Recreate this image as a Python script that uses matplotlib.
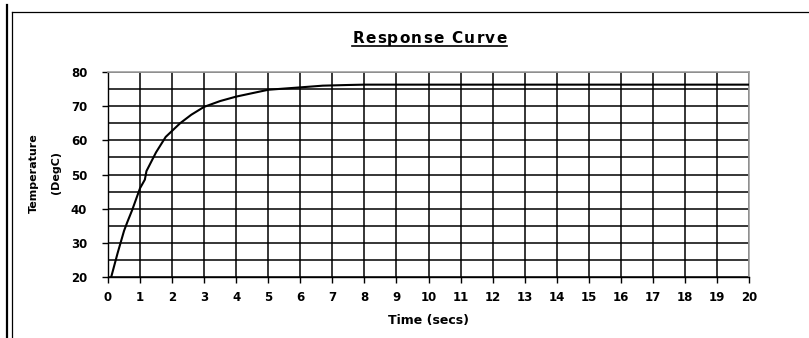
import matplotlib
matplotlib.use("Agg")
import matplotlib.pyplot as plt
from matplotlib.lines import Line2D
from matplotlib.ticker import MultipleLocator

plt.rcParams['font.family'] = ['DejaVu Sans']

# Measured temperature response over time
time_s = [0.1, 0.3, 0.5, 0.6, 0.75, 1.0, 1.15, 1.2, 1.5, 1.8, 2.25, 2.6,
          3.0, 3.5, 4.0, 5.0, 6.0, 6.7, 7.5, 8.0, 20.0]
temp_c = [20.0, 27.0, 33.5, 36.0, 39.5, 46.0, 48.5, 51.0, 56.5, 61.0, 65.0,
          67.5, 69.8, 71.5, 72.8, 74.8, 75.5, 76.0, 76.2, 76.3, 76.3]

x_ticks = list(range(0, 21))
y_ticks = [20, 30, 40, 50, 60, 70, 80]
title_text = 'Response Curve'

W, H = 809, 338
fig = plt.figure(figsize=(W / 100, H / 100), dpi=100)
fig.patch.set_facecolor('white')

# Page frame lines
def px_line(x0, y0, x1, y1, lw):
    fig.add_artist(Line2D([x0 / W, x1 / W], [1 - y0 / H, 1 - y1 / H],
                          transform=fig.transFigure, color='black', lw=lw))

px_line(6.5, 5, 6.5, H, 1.6)
px_line(11.5, 11.5, 11.5, H, 0.9)
px_line(11.5, 11.5, W, 11.5, 0.9)

left, right, top, bottom = 108, 749, 72, 277
ax = fig.add_axes([left / W, 1 - bottom / H, (right - left) / W, (bottom - top) / H])

ax.plot(time_s, temp_c, color='black', lw=1.5, zorder=3)

ax.set_xlim(0, 20)
ax.set_ylim(20, 80)
ax.set_xticks(x_ticks)
ax.set_yticks(y_ticks)
ax.yaxis.set_minor_locator(MultipleLocator(5))

ax.grid(True, which='major', color='black', lw=1.1)
ax.grid(True, which='minor', axis='y', color='black', lw=1.1)
ax.set_axisbelow(True)

for s in ('top', 'right'):
    ax.spines[s].set_color('#a0a0a0')
    ax.spines[s].set_linewidth(1.2)
for s in ('left', 'bottom'):
    ax.spines[s].set_color('black')
    ax.spines[s].set_linewidth(1.0)

ax.tick_params(axis='both', which='major', direction='out', length=4,
               width=1.0, color='black', labelsize=8.5)
ax.tick_params(axis='x', pad=6)
ax.tick_params(axis='y', pad=11)
ax.tick_params(axis='y', which='minor', length=0)
for lab in ax.get_xticklabels() + ax.get_yticklabels():
    lab.set_fontweight('bold')

ax.set_xlabel('Time (secs)', fontsize=9, fontweight='bold', labelpad=7)

fig.text(34 / W, 1 - 173 / H, 'Temperature', rotation=90, fontsize=8,
         fontweight='bold', ha='center', va='center')
fig.text(56 / W, 1 - 173 / H, '(DegC)', rotation=90, fontsize=8,
         fontweight='bold', ha='center', va='center')

# Title with widened letter spacing and an underline
fig.canvas.draw()
renderer = fig.canvas.get_renderer()
t_size, t_track, t_cx, t_base = 11, 1.3, 429.5, 43


def prefix_width(s):
    if not s:
        return 0.0
    probe = fig.text(0, 0, s.replace(' ', '\u00a0'), fontsize=t_size, fontweight='bold')
    w = probe.get_window_extent(renderer).width
    probe.remove()
    return w


n = len(title_text)
total = prefix_width(title_text) + t_track * (n - 1)
x_start = t_cx - total / 2
for i, ch in enumerate(title_text):
    if ch == ' ':
        continue
    xi = x_start + prefix_width(title_text[:i]) + t_track * i
    fig.text(xi / W, 1 - t_base / H, ch, fontsize=t_size, fontweight='bold',
             ha='left', va='baseline')

y_u = 1 - 45.5 / H
fig.add_artist(Line2D([x_start / W, (x_start + total) / W], [y_u, y_u],
                      transform=fig.transFigure, color='black', lw=1.2))

fig.savefig('out.png', dpi=100, facecolor='white')
